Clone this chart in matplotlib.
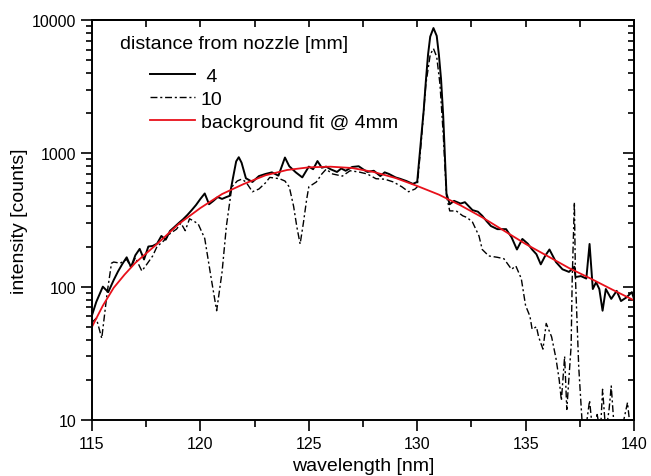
import numpy as np
import matplotlib
matplotlib.use("Agg")
import matplotlib.pyplot as plt
from matplotlib.ticker import MultipleLocator, LogLocator, NullFormatter, FixedLocator

plt.rcParams['font.family'] = ['Liberation Sans', 'DejaVu Sans']

# 4 mm spectrum (wavelength nm, counts)
wl_4 = [115.0, 115.2, 115.5, 115.75, 116.0, 116.2, 116.4, 116.6, 116.8, 117.0,
        117.2, 117.4, 117.6, 117.8, 118.0, 118.2, 118.4, 118.6, 118.8, 119.0,
        119.2, 119.4, 119.6, 119.8, 120.0, 120.2, 120.4, 120.6, 120.8, 121.0,
        121.2, 121.35, 121.5, 121.65, 121.77, 121.9, 122.1, 122.4, 122.7, 123.0,
        123.3, 123.6, 123.9, 124.1, 124.4, 124.7, 125.0, 125.2, 125.4, 125.6,
        125.8, 126.0, 126.3, 126.5, 126.7, 127.0, 127.3, 127.5, 127.7, 128.0,
        128.3, 128.5, 128.7, 129.0, 129.2, 129.5, 129.8, 130.0, 130.2, 130.3,
        130.4, 130.5, 130.6, 130.75, 130.9, 131.0, 131.1, 131.2, 131.35, 131.5,
        131.7, 132.0, 132.2, 132.55, 132.8, 133.0, 133.2, 133.4, 133.7, 134.1,
        134.35, 134.6, 134.85, 135.1, 135.3, 135.5, 135.7, 135.9, 136.1, 136.4,
        136.7, 137.0, 137.25, 137.3, 137.55, 137.8, 137.95, 138.1, 138.25, 138.4,
        138.55, 138.7, 138.95, 139.2, 139.4, 139.65, 139.9, 140.0]
cnt_4 = [61, 77, 100, 91, 112, 130, 148, 166, 140, 172,
         192, 160, 200, 202, 210, 240, 225, 262, 280, 300,
         320, 345, 375, 410, 455, 500, 415, 440, 470, 455,
         470, 480, 650, 870, 935, 850, 650, 610, 675, 700,
         720, 680, 930, 800, 720, 660, 795, 760, 875, 780,
         795, 760, 725, 770, 740, 790, 800, 760, 725, 740,
         675, 720, 700, 660, 645, 620, 590, 610, 1400, 2100,
         3500, 5500, 7500, 8700, 7600, 5500, 3600, 1900, 500, 415,
         440, 420, 430, 375, 365, 340, 310, 285, 270, 270,
         235, 190, 228, 210, 190, 175, 147, 170, 190, 153,
         135, 129, 141, 118, 120, 115, 209, 96, 108, 96,
         66, 96, 81, 93, 78, 83, 91, 81]

# 10 mm spectrum
wl_10 = [115.0, 115.2, 115.45, 115.7, 115.9, 116.0, 116.3, 116.6, 116.8, 117.0,
         117.3, 117.5, 117.8, 118.0, 118.3, 118.6, 118.9, 119.1, 119.3, 119.5,
         119.7, 119.9, 120.2, 120.5, 120.75, 121.0, 121.2, 121.45, 121.7, 121.9,
         122.1, 122.4, 122.7, 123.0, 123.2, 123.65, 123.9, 124.1, 124.3, 124.45,
         124.6, 124.75, 124.9, 125.0, 125.35, 125.6, 125.8, 126.1, 126.55, 126.9,
         127.3, 127.7, 128.1, 128.5, 128.9, 129.3, 129.6, 129.9, 130.0, 130.2,
         130.4, 130.6, 130.75, 130.9, 131.05, 131.2, 131.35, 131.5, 131.8, 132.1,
         132.3, 132.55, 132.85, 133.0, 133.3, 133.7, 134.0, 134.35, 134.55, 134.8,
         135.0, 135.2, 135.3, 135.5, 135.6, 135.8, 135.95, 136.2, 136.4, 136.55,
         136.65, 136.8, 136.9, 137.1, 137.15, 137.25, 137.3, 137.45, 137.6, 137.75,
         137.95, 138.1, 138.3, 138.45, 138.55, 138.7, 138.85, 138.95, 139.1, 139.4,
         139.7, 139.85, 140.0]
cnt_10 = [54, 58, 41, 90, 150, 153, 150, 160, 140, 165,
          131, 145, 170, 200, 220, 250, 270, 300, 263, 323,
          310, 295, 230, 115, 66, 129, 285, 560, 620, 640,
          610, 515, 540, 600, 660, 645, 620, 560, 400, 280,
          209, 300, 450, 560, 610, 700, 760, 700, 675, 740,
          725, 700, 645, 640, 610, 560, 515, 540, 560, 1300,
          3300, 5500, 6100, 5300, 3300, 1400, 480, 370, 370, 340,
          330, 305, 240, 190, 170, 166, 162, 135, 143, 115,
          72, 60, 48, 50, 42, 34, 53, 42, 29, 20,
          14, 30, 12, 36, 115, 430, 115, 25, 10, 8,
          14, 8, 11, 8, 17, 8, 12, 18, 8, 8,
          13.5, 8, 8]

# background fit @ 4mm
wl_fit = [115.0, 115.5, 116.0, 116.5, 117.0, 118.0, 119.0, 120.0, 121.0, 122.0,
          123.0, 124.0, 125.0, 126.0, 127.0, 128.0, 129.0, 130.0, 131.0, 132.0,
          133.0, 134.0, 135.0, 136.0, 137.0, 138.0, 139.0, 140.0]
cnt_fit = [50, 72, 98, 123, 151, 209, 295, 389, 495, 589,
           684, 750, 785, 794, 776, 724, 653, 569, 490, 407,
           331, 263, 209, 170, 138, 115, 95, 79]

fig = plt.figure(figsize=(6.51, 4.77), dpi=100)
ax = fig.add_axes([0.1413, 0.1174, 0.8326, 0.8386])

ax.plot(wl_4, cnt_4, color='black', lw=1.4, label=' 4')
ax.plot(wl_10, cnt_10, color='black', lw=1.0, ls=(0, (5, 2, 1.5, 2)), label='10')
ax.plot(wl_fit, cnt_fit, color='#e8101a', lw=1.3, label='background fit @ 4mm')

ax.set_yscale('log')
ax.set_xlim(115, 140)
ax.set_ylim(10, 10000)

ax.xaxis.set_major_locator(MultipleLocator(5))
ax.xaxis.set_minor_locator(MultipleLocator(2.5))
ax.yaxis.set_major_locator(FixedLocator([10, 100, 1000, 10000]))
ax.yaxis.set_major_formatter(matplotlib.ticker.FuncFormatter(lambda v, p: '%d' % v))
ax.yaxis.set_minor_locator(LogLocator(base=10, subs=np.arange(2, 10)))
ax.yaxis.set_minor_formatter(NullFormatter())

ax.tick_params(which='both', direction='out', labelsize=11.5, width=1.2, colors='black')
ax.tick_params(which='major', length=8)
ax.tick_params(which='minor', length=4.5)
ax.tick_params(axis='x', which='minor', length=5)

# mirrored ticks pointing inward on top and right
sec_x = ax.secondary_xaxis('top')
sec_x.xaxis.set_major_locator(MultipleLocator(2.5))
sec_x.tick_params(direction='in', length=5, width=1.2, labeltop=False)
sec_y = ax.secondary_yaxis('right')
sec_y.set_yscale('log')
sec_y.yaxis.set_major_locator(FixedLocator([10, 100, 1000, 10000]))
sec_y.yaxis.set_minor_locator(LogLocator(base=10, subs=np.arange(2, 10)))
sec_y.yaxis.set_minor_formatter(NullFormatter())
sec_y.tick_params(which='both', direction='in', width=1.2, labelright=False)
sec_y.tick_params(which='major', length=8)
sec_y.tick_params(which='minor', length=4.5)

for s in list(ax.spines.values()) + [sec_x.spines['top'], sec_y.spines['right']]:
    s.set_linewidth(1.4)

ax.set_xlabel('wavelength [nm]', fontsize=14, labelpad=4.5)
ax.set_ylabel('intensity [counts]', fontsize=14)
ax.yaxis.set_label_coords(-0.118, 0.5)

ax.text(0.052, 0.94, 'distance from nozzle [mm]', transform=ax.transAxes,
        fontsize=14, ha='left', va='center')
ax.legend(loc='upper left', bbox_to_anchor=(0.107, 0.8825), frameon=False,
          fontsize=14, handlelength=2.3, handletextpad=0.3, labelspacing=0.28,
          borderaxespad=0, borderpad=0)

fig.savefig('out.png', dpi=100)
